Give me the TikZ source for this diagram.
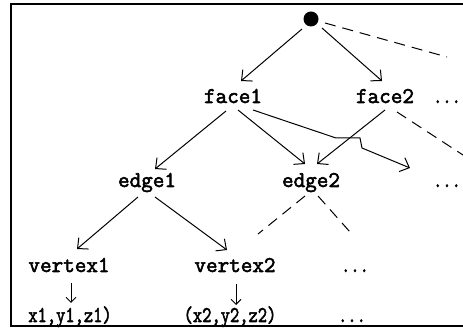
\documentclass[tikz,border=0pt]{standalone}
\usepackage{fontspec}
\newfontfamily\lblfont{Latin Modern Mono}[FakeBold=2.5]
\usetikzlibrary{arrows.meta}
\begin{document}
\begin{tikzpicture}[x=1pt,y=-1pt,
  lbl/.style={font=\lblfont\fontsize{22.5}{22.5}\selectfont, inner sep=0pt, anchor=base},
  arr/.style={line width=1pt, -{Straight Barb[length=8pt,width=15pt,line width=1pt]}},
  smallarr/.style={line width=1pt, -{Straight Barb[length=5pt,width=10pt,line width=1pt]}},
  dashline/.style={line width=1pt, dash pattern=on 11pt off 7pt},
]
\useasboundingbox (0,0) rectangle (463,328);
% frame, open on the right
\draw[line width=2pt] (463,4.5) -- (11,4.5) -- (11,326.5) -- (463,326.5);

% tree nodes
\node[circle, fill, inner sep=0pt, minimum size=15pt] (root) at (311,19) {};
\node[lbl] (face1) at (233,103) {face1};
\node[lbl] (face2) at (385,103) {face2};
\node[lbl] (fdots) at (447,103) {\scalebox{0.8}[1]{...}};
\node[lbl] (edge1) at (147,187) {edge1};
\node[lbl] (edge2) at (311,187) {edge2};
\node[lbl] (edots) at (447,187) {\scalebox{0.8}[1]{...}};
\node[lbl] (vertex1) at (69,272) {vertex1};
\node[lbl] (vertex2) at (235,272) {vertex2};
\node[lbl] (vdots) at (355,272) {\scalebox{0.8}[1]{...}};
\node[lbl] (c1) at (70,322) {\scalebox{0.8}[1]{x1,y1,z1)}};
\node[lbl] (c2) at (230,322) {\scalebox{0.8}[1]{(x2,y2,z2)}};
\node[lbl] (cdots) at (352,322) {\scalebox{0.8}[1]{...}};

% free ends of the open branches
\coordinate (rootend) at (447,57);
\coordinate (face2end) at (463,155);
\coordinate (hopend) at (410,168);
\coordinate (e2left) at (258,234);
\coordinate (e2right) at (350,232);

% solid arrows
\draw[arr] ([shift={(-9,10)}]root.center) -- ([shift={(8,-22)}]face1.base);
\draw[arr] ([shift={(11,9)}]root.center) -- ([shift={(-3,-22)}]face2.base);
\draw[arr] ([shift={(-7,8)}]face1.base) -- ([shift={(8,-18)}]edge1.base);
\draw[arr] ([shift={(5,7)}]face1.base) -- ([shift={(-6,-23)}]edge2.base);
\draw[arr] ([shift={(0,7)}]face2.base) -- ([shift={(6,-23)}]edge2.base);
\draw[arr] ([shift={(20,7)}]face1.base) -- (336,138) -- (360,138) -- (362,148) -- (hopend);
\draw[arr] ([shift={(-9,10)}]edge1.base) -- ([shift={(8,-23)}]vertex1.base);
\draw[arr] ([shift={(8,10)}]edge1.base) -- ([shift={(-8,-22)}]vertex2.base);
\draw[smallarr] ([shift={(2,11)}]vertex1.base) -- ([shift={(1,-19)}]c1.base);
\draw[smallarr] ([shift={(1,12)}]vertex2.base) -- ([shift={(6,-17)}]c2.base);

% dashed branches
\draw[dashline] ([shift={(14,4)}]root.center) -- (rootend);
\draw[dashline] ([shift={(12,9)}]face2.base) -- (face2end);
\draw[dashline] ([shift={(-6,9)}]edge2.base) -- (e2left);
\draw[dashline] ([shift={(7,9)}]edge2.base) -- (e2right);
\end{tikzpicture}
\end{document}
